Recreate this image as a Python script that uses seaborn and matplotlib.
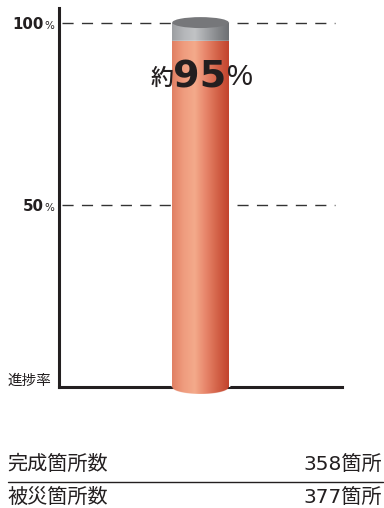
import numpy as np
import pandas as pd
import matplotlib
matplotlib.use("Agg")
import matplotlib.pyplot as plt
import seaborn as sns
from matplotlib.patches import Ellipse
from matplotlib.colors import LinearSegmentedColormap
import matplotlib.transforms as mtransforms

sns.set_theme(style="white")
plt.rcParams["font.family"] = ["Noto Sans CJK JP", "DejaVu Sans"]

# --- data ---
categories = ["進捗率"]
progress_pct = [95]          # 約95%
full_pct = [100]
tick_values = [50, 100]
tick_labels = ["50", "100"]
row_labels = ["完成箇所数", "被災箇所数"]
row_values = [358, 377]
row_unit = "箇所"

TEXT = "#231f20"
W, H = 384, 508

fig = plt.figure(figsize=(W / 100, H / 100), dpi=100)
ax = fig.add_axes([59 / W, (H - 387) / H, (342 - 59) / W, (387 - 8) / H])

df = pd.DataFrame({"cat": categories, "full": full_pct, "prog": progress_pct})
sns.barplot(data=df, x="cat", y="full", color="#a0a2a5", width=1.0, ax=ax,
            saturation=1, zorder=3)
sns.barplot(data=df, x="cat", y="prog", color="#e38366", width=1.0, ax=ax,
            saturation=1, zorder=4)

ax.set_xlim(-2.5, 2.5)
ax.set_ylim(0, 104)

orange = LinearSegmentedColormap.from_list(
    "o", ["#e07f63", "#ef9c7e", "#f4aa8b", "#e78469", "#d36248", "#c2432d"])
gray = LinearSegmentedColormap.from_list(
    "g", ["#9c9ea1", "#b4b6b9", "#c1c3c5", "#a3a5a8", "#86888b", "#6d6f73"])
grad = np.linspace(0, 1, 256).reshape(1, -1)

gray_bar, orange_bar = ax.patches[0], ax.patches[1]
for bar, cmap, z in [(gray_bar, gray, 3.5), (orange_bar, orange, 4.5)]:
    x0, w = bar.get_x(), bar.get_width()
    y0, h = bar.get_y(), bar.get_height()
    im = ax.imshow(grad, cmap=cmap, aspect="auto", extent=[x0, x0 + w, y0, y0 + h],
                   zorder=z, interpolation="bicubic")
    im.set_clip_path(bar)

# rounded bottom of the cylinder: lower half of an ellipse, shaded like the body
x0, w = orange_bar.get_x(), orange_bar.get_width()
cx = x0 + w / 2
cap_h = 3.8
nx, ny = 400, 120
u = np.linspace(-1, 1, nx)
v = np.linspace(0, -1, ny)
U, V = np.meshgrid(u, v)
rgba = orange((U + 1) / 2)
r = np.sqrt(U ** 2 + V ** 2)
rgba[..., 3] = np.clip((1 - r) * 60, 0, 1)
im = ax.imshow(rgba, aspect="auto", extent=[x0, x0 + w, -cap_h / 2, 0],
               zorder=4.4, interpolation="antialiased", clip_on=False)
ax.set_xlim(-2.5, 2.5)
ax.set_ylim(0, 104)

top = Ellipse((cx, full_pct[0]), w, 3.0, facecolor="#76777a", edgecolor="none",
              zorder=5, clip_on=False)
ax.add_patch(top)

# gridlines
for val in tick_values:
    ax.axhline(val, xmin=0.012, xmax=0.975, color="#333333", lw=1.0,
               dashes=(8, 6), zorder=2)

# spines
sns.despine(ax=ax, top=True, right=True)
for s in ["left", "bottom"]:
    ax.spines[s].set_linewidth(2.2)
    ax.spines[s].set_color(TEXT)
ax.spines["bottom"].set_zorder(2.5)
ax.set_xticks([])
ax.set_yticks([])
ax.set_xlabel("")
ax.set_ylabel("")
ax.patch.set_alpha(0)

# y tick labels with small percent sign
trans = mtransforms.blended_transform_factory(fig.transFigure, ax.transData)
for val, lab in zip(tick_values, tick_labels):
    ax.text(44 / W, val - 1.65, lab, transform=trans, ha="right", va="baseline",
            fontsize=10.8, fontweight="bold", family=["DejaVu Sans"],
            color=TEXT)
    ax.text(44.5 / W, val - 1.65, "%", transform=trans, ha="left", va="baseline",
            fontsize=7.5, family=["DejaVu Sans"], color=TEXT)
ax.text(7 / W, 1.6, categories[0], transform=trans, ha="left", va="center",
        fontsize=10.5, color=TEXT)

# rate label
lab_y = 1 - 77 / H
fig.text(162 / W, 1 - 78 / H, "約", ha="center", va="center", fontsize=16.5,
         fontweight="medium", color=TEXT)
fig.text(200 / W, lab_y, f"{progress_pct[0]}", ha="center", va="center",
         fontsize=27.5, fontweight="bold", family=["DejaVu Sans"], color=TEXT)
fig.text(239.5 / W, lab_y, "%", ha="center", va="center", fontsize=21,
         family=["Liberation Sans"], color=TEXT)

# summary table
row_y = [464, 497]
for lab, val, y in zip(row_labels, row_values, row_y):
    fig.text(7 / W, 1 - y / H, lab, ha="left", va="center", fontsize=14.5,
             color=TEXT)
    fig.text(382 / W, 1 - y / H, f"{val}{row_unit}", ha="right", va="center",
             fontsize=14.5, family=["DejaVu Sans", "Noto Sans CJK JP"],
             color=TEXT)
fig.add_artist(plt.Line2D([8 / W, 383 / W], [1 - 482 / H, 1 - 482 / H],
                          transform=fig.transFigure, color=TEXT, lw=1.0))

fig.savefig("out.png", dpi=100)
